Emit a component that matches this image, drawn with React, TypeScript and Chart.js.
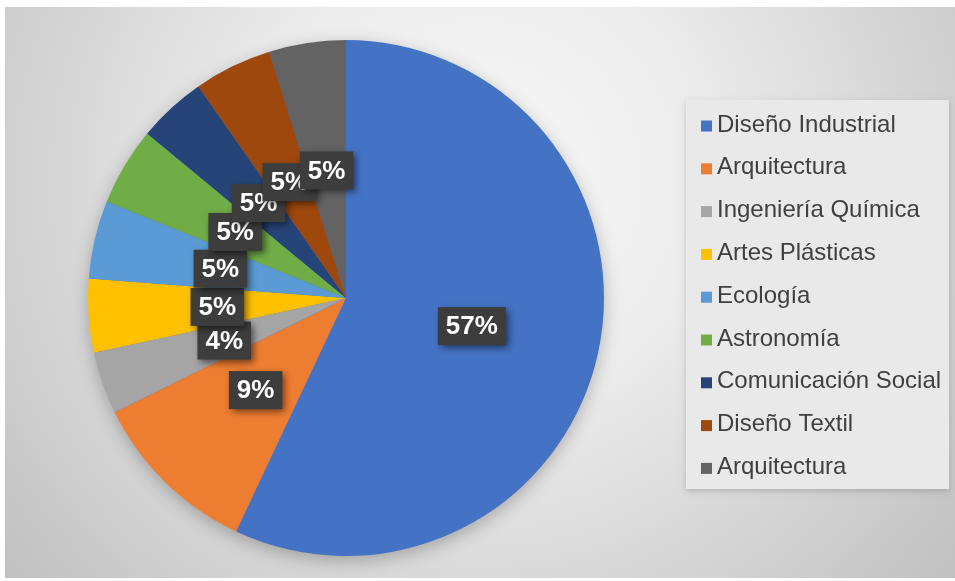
import React, { useEffect, useRef } from "react";
import { Chart, registerables } from "chart.js";

Chart.register(...registerables);

const categories = [
  "Diseño Industrial",
  "Arquitectura",
  "Ingeniería Química",
  "Artes Plásticas",
  "Ecología",
  "Astronomía",
  "Comunicación Social",
  "Diseño Textil",
  "Arquitectura",
];
// slice sizes as read from the drawn wedges (percent of the circle)
const shares = [57, 10.7, 3.9, 4.6, 4.9, 4.9, 4.3, 4.9, 4.8];
// data labels as printed on the chart
const labelTexts = ["57%", "9%", "4%", "5%", "5%", "5%", "5%", "5%", "5%"];
const sliceColors = [
  "#4472C4",
  "#ED7D31",
  "#A5A5A5",
  "#FFC000",
  "#5B9BD5",
  "#70AD47",
  "#264478",
  "#9E480E",
  "#636363",
];

const FONT = '"Liberation Sans", Arial, sans-serif';

const backgroundPlugin = {
  id: "bgPlugin",
  beforeDraw(chart: any) {
    const { ctx, width, height } = chart;
    ctx.save();
    ctx.fillStyle = "#ffffff";
    ctx.fillRect(0, 0, width, height);
    const g = ctx.createRadialGradient(480, 180, 0, 480, 180, 650);
    g.addColorStop(0, "#f8f8f8");
    g.addColorStop(0.35, "#ececec");
    g.addColorStop(1, "#bdbdbd");
    ctx.fillStyle = g;
    ctx.fillRect(5, 7, width - 5, height - 10);
    // legend panel
    ctx.shadowColor = "rgba(0,0,0,0.18)";
    ctx.shadowBlur = 6;
    ctx.shadowOffsetY = 2;
    ctx.fillStyle = "#e9e9e9";
    ctx.fillRect(686, 100, 263, 389);
    ctx.restore();
  },
};

const pieShadowPlugin = {
  id: "pieShadow",
  beforeDatasetsDraw(chart: any) {
    const meta = chart.getDatasetMeta(0);
    const arc = meta.data[0];
    if (!arc) return;
    const { ctx } = chart;
    ctx.save();
    ctx.shadowColor = "rgba(0,0,0,0.28)";
    ctx.shadowBlur = 18;
    ctx.shadowOffsetY = 5;
    ctx.fillStyle = "#4472C4";
    ctx.beginPath();
    ctx.arc(arc.x, arc.y, arc.outerRadius - 1, 0, Math.PI * 2);
    ctx.fill();
    ctx.restore();
  },
};

const labelPlugin = {
  id: "sliceLabels",
  afterDatasetsDraw(chart: any) {
    const { ctx } = chart;
    const meta = chart.getDatasetMeta(0);
    ctx.save();
    ctx.font = `bold 26px ${FONT}`;
    ctx.textAlign = "center";
    ctx.textBaseline = "middle";
    meta.data.forEach((arc: any, i: number) => {
      const p = arc.getCenterPoint();
      const text = labelTexts[i];
      const tw = ctx.measureText(text).width;
      const bw = tw + 16;
      const bh = 38;
      ctx.save();
      ctx.shadowColor = "rgba(0,0,0,0.55)";
      ctx.shadowBlur = 7;
      ctx.shadowOffsetX = 3;
      ctx.shadowOffsetY = 3;
      ctx.fillStyle = "#3d3d3d";
      ctx.fillRect(p.x - bw / 2, p.y - bh / 2, bw, bh);
      ctx.restore();
      ctx.fillStyle = "#ffffff";
      ctx.fillText(text, p.x, p.y + 1);
    });
    ctx.restore();
  },
};

const legendPlugin = {
  id: "sideLegend",
  afterDraw(chart: any) {
    const { ctx } = chart;
    const labels: string[] = chart.data.labels;
    const colors: string[] = chart.data.datasets[0].backgroundColor;
    ctx.save();
    ctx.font = `24px ${FONT}`;
    ctx.textAlign = "left";
    ctx.textBaseline = "alphabetic";
    labels.forEach((lab, i) => {
      const base = 131.5 + i * 42.8;
      ctx.fillStyle = colors[i];
      ctx.fillRect(701, base - 11, 11, 11);
      ctx.fillStyle = "#404040";
      ctx.fillText(lab, 717, base);
    });
    ctx.restore();
  },
};

export default function App() {
  const ref = useRef<HTMLCanvasElement | null>(null);
  useEffect(() => {
    document.body.style.margin = "0";
    if (!ref.current) return;
    const chart = new Chart(ref.current, {
      type: "pie",
      data: {
        labels: categories,
        datasets: [
          {
            data: shares,
            backgroundColor: sliceColors,
            borderWidth: 0,
          },
        ],
      },
      options: {
        responsive: false,
        animation: false,
        layout: { padding: { left: 88, right: 351, top: 40, bottom: 25 } },
        plugins: {
          legend: { display: false },
          tooltip: { enabled: false },
        },
      },
      plugins: [backgroundPlugin, pieShadowPlugin, labelPlugin, legendPlugin],
    });
    return () => chart.destroy();
  }, []);
  return (
    <div style={{ width: 955, height: 581 }}>
      <canvas ref={ref} width={955} height={581} style={{ display: "block" }} />
    </div>
  );
}
